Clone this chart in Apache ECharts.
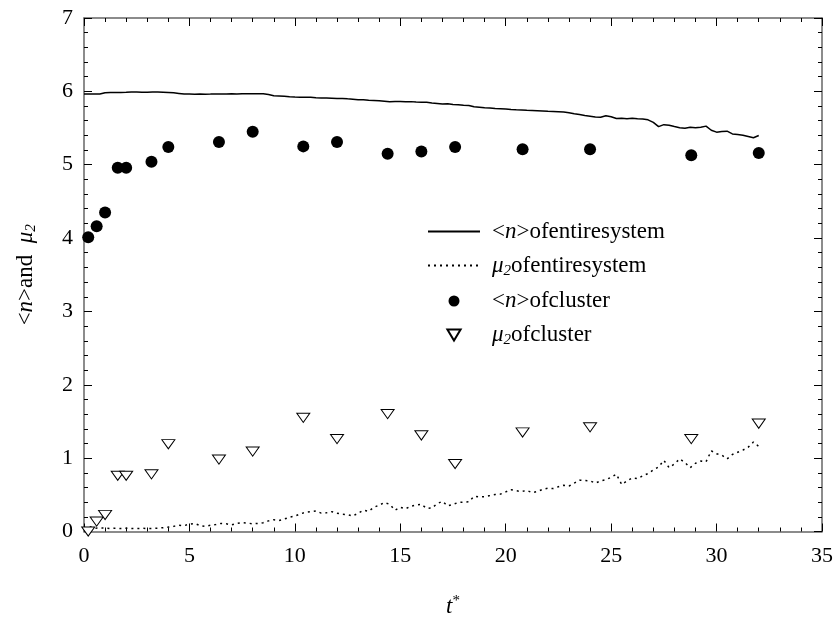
<!DOCTYPE html>
<html>
<head>
<meta charset="utf-8">
<script src="https://cdn.jsdelivr.net/npm/echarts@6/dist/echarts.min.js"></script>
<style>
  html, body { margin: 0; padding: 0; background: #ffffff; }
  #chart { width: 836px; height: 623px; }
</style>
</head>
<body>
<div id="chart"></div>
<script>
// Axis ticks
const xTicks = [0, 5, 10, 15, 20, 25, 30, 35];
const yTicks = [0, 1, 2, 3, 4, 5, 6, 7];

// Whole-system curves, sampled every 0.25 in t*
const sysStep = 0.25;
const nSystem = [
  5.963, 5.964, 5.963, 5.965, 5.980, 5.985, 5.986, 5.985, 5.987, 5.990,
  5.991, 5.989, 5.988, 5.990, 5.992, 5.989, 5.986, 5.980, 5.972, 5.964,
  5.963, 5.962, 5.964, 5.962, 5.963, 5.965, 5.963, 5.964, 5.966, 5.965,
  5.966, 5.967, 5.966, 5.967, 5.966, 5.958, 5.940, 5.936, 5.932, 5.926,
  5.923, 5.921, 5.918, 5.920, 5.914, 5.911, 5.909, 5.906, 5.903, 5.904,
  5.898, 5.893, 5.886, 5.884, 5.880, 5.877, 5.873, 5.866, 5.858, 5.861,
  5.863, 5.858, 5.860, 5.854, 5.851, 5.850, 5.842, 5.836, 5.828, 5.832,
  5.822, 5.817, 5.811, 5.806, 5.790, 5.784, 5.776, 5.772, 5.766, 5.764,
  5.758, 5.752, 5.748, 5.745, 5.742, 5.740, 5.737, 5.733, 5.728, 5.725,
  5.722, 5.719, 5.708, 5.695, 5.684, 5.671, 5.662, 5.650, 5.648, 5.668,
  5.655, 5.631, 5.634, 5.628, 5.632, 5.626, 5.624, 5.612, 5.578, 5.519,
  5.546, 5.538, 5.520, 5.505, 5.498, 5.510, 5.503, 5.512, 5.526, 5.470,
  5.444, 5.452, 5.457, 5.420, 5.412, 5.401, 5.386, 5.368, 5.398
];
const mu2System = [
  0.045, 0.068, 0.045, 0.050, 0.045, 0.040, 0.046, 0.040, 0.044, 0.042,
  0.040, 0.045, 0.040, 0.043, 0.046, 0.052, 0.060, 0.070, 0.085, 0.080,
  0.100, 0.110, 0.080, 0.070, 0.085, 0.095, 0.110, 0.105, 0.090, 0.110,
  0.120, 0.115, 0.105, 0.110, 0.120, 0.145, 0.160, 0.150, 0.170, 0.195,
  0.210, 0.240, 0.260, 0.270, 0.280, 0.250, 0.255, 0.270, 0.250, 0.235,
  0.230, 0.210, 0.250, 0.290, 0.275, 0.330, 0.360, 0.395, 0.370, 0.290,
  0.330, 0.310, 0.345, 0.360, 0.370, 0.315, 0.320, 0.380, 0.410, 0.350,
  0.370, 0.395, 0.400, 0.405, 0.480, 0.470, 0.475, 0.490, 0.505, 0.510,
  0.540, 0.570, 0.555, 0.545, 0.560, 0.530, 0.545, 0.575, 0.590, 0.585,
  0.610, 0.630, 0.620, 0.660, 0.700, 0.695, 0.690, 0.660, 0.690, 0.705,
  0.740, 0.780, 0.640, 0.690, 0.730, 0.720, 0.760, 0.790, 0.840, 0.880,
  0.970, 0.870, 0.920, 0.990, 0.940, 0.870, 0.930, 0.960, 0.950, 1.100,
  1.060, 1.040, 0.990, 1.050, 1.080, 1.110, 1.150, 1.220, 1.160
];

// Cluster samples
const clusterT   = [0.2, 0.6, 1.0, 1.6, 2.0, 3.2, 4.0, 6.4, 8.0, 10.4, 12.0, 14.4, 16.0, 17.6, 20.8, 24.0, 28.8, 32.0];
const nCluster   = [4.01, 4.16, 4.35, 4.96, 4.96, 5.04, 5.24, 5.31, 5.45, 5.25, 5.31, 5.15, 5.18, 5.24, 5.21, 5.21, 5.13, 5.16];
const mu2Cluster = [0.00, 0.135, 0.225, 0.76, 0.76, 0.78, 1.19, 0.98, 1.09, 1.55, 1.26, 1.60, 1.31, 0.92, 1.35, 1.42, 1.26, 1.47];

const seriesNames = ['<n>ofentiresystem', 'μ2ofentiresystem', '<n>ofcluster', 'μ2ofcluster'];
const legendRich = [
  '{r|<}{i|n}{r|>ofentiresystem}',
  '{i|μ}{sub|2}{r|ofentiresystem}',
  '{r|<}{i|n}{r|>ofcluster}',
  '{i|μ}{sub|2}{r|ofcluster}'
];

const FONT = '"Liberation Serif", "Times New Roman", serif';
const richStyles = {
  r:   { fontFamily: FONT, fontSize: 23, lineHeight: 26, color: '#000' },
  i:   { fontFamily: FONT, fontSize: 23, lineHeight: 26, fontStyle: 'italic', color: '#000' },
  sub: { fontFamily: FONT, fontSize: 15, lineHeight: 15, fontStyle: 'italic', verticalAlign: 'bottom', color: '#000' },
  sup: { fontFamily: FONT, fontSize: 15, lineHeight: 15, verticalAlign: 'top', color: '#000' }
};

const pairs = (ts, vs) => ts.map((t, k) => [t, vs[k]]);
const sampled = vs => vs.map((v, k) => [k * sysStep, v]);

const xMin = xTicks[0], xMax = xTicks[xTicks.length - 1], xInt = xTicks[1] - xTicks[0];
const yMin = yTicks[0], yMax = yTicks[yTicks.length - 1], yInt = yTicks[1] - yTicks[0];

const axisLineStyle = { color: '#666666', width: 1.5 };
const tickCommon = { show: true, inside: true, length: 8, lineStyle: { color: '#000', width: 1 } };
const minorCommon = { show: true, splitNumber: 5, length: 4, lineStyle: { color: '#000', width: 1 } };
const tickLabel = { fontFamily: FONT, fontSize: 22, color: '#000' };

const triangleDown = 'path://M0,0L12,0L6,10Z';

// line entries in the legend show only the stroke sample
const legendData = seriesNames.map((name, k) =>
  k < 2 ? { name: name, itemStyle: { opacity: 0 } } : { name: name });

const chart = echarts.init(document.getElementById('chart'), null, { renderer: 'canvas' });
chart.setOption({
  animation: false,
  backgroundColor: '#ffffff',
  grid: { left: 84, right: 12, top: 18, bottom: 88, containLabel: false },
  xAxis: [
    {
      type: 'value', min: xMin, max: xMax, interval: xInt, position: 'bottom',
      axisLine: { show: true, onZero: false, lineStyle: axisLineStyle },
      axisTick: tickCommon, minorTick: minorCommon,
      splitLine: { show: false },
      axisLabel: Object.assign({ margin: 14 }, tickLabel),
      name: '{i|t}{sup|*}', nameLocation: 'middle', nameGap: 62,
      nameTextStyle: { rich: richStyles }
    },
    {
      type: 'value', min: xMin, max: xMax, interval: xInt, position: 'top',
      axisLine: { show: true, onZero: false, lineStyle: axisLineStyle },
      axisTick: tickCommon, minorTick: minorCommon,
      splitLine: { show: false }, axisLabel: { show: false }
    }
  ],
  yAxis: [
    {
      type: 'value', min: yMin, max: yMax, interval: yInt, position: 'left',
      axisLine: { show: true, onZero: false, lineStyle: axisLineStyle },
      axisTick: tickCommon, minorTick: minorCommon,
      splitLine: { show: false },
      axisLabel: Object.assign({ margin: 11 }, tickLabel),
      name: '{r|<}{i|n}{r|>and  }{i|μ}{sub|2}', nameLocation: 'middle', nameGap: 45, nameRotate: 90,
      nameTextStyle: { rich: richStyles }
    },
    {
      type: 'value', min: yMin, max: yMax, interval: yInt, position: 'right',
      axisLine: { show: true, onZero: false, lineStyle: axisLineStyle },
      axisTick: tickCommon, minorTick: minorCommon,
      splitLine: { show: false }, axisLabel: { show: false }
    }
  ],
  legend: {
    orient: 'vertical',
    left: 422, top: 215,
    itemWidth: 52, itemHeight: 11, itemGap: 11,
    data: legendData,
    formatter: name => legendRich[seriesNames.indexOf(name)],
    textStyle: { padding: [0, 0, 0, 7], rich: richStyles }
  },
  series: [
    {
      name: seriesNames[0], type: 'line', data: sampled(nSystem),
      symbol: 'none', showSymbol: false, smooth: false,
      lineStyle: { color: '#000', width: 1.5, type: 'solid' },
      itemStyle: { color: '#000' }, z: 2
    },
    {
      name: seriesNames[1], type: 'line', data: sampled(mu2System),
      symbol: 'none', showSymbol: false, smooth: false,
      lineStyle: { color: '#000', width: 1.5, type: [2, 4] },
      itemStyle: { color: '#000' }, z: 2
    },
    {
      name: seriesNames[2], type: 'scatter', data: pairs(clusterT, nCluster),
      symbol: 'circle', symbolSize: 12,
      itemStyle: { color: '#000', opacity: 1 }, z: 3
    },
    {
      name: seriesNames[3], type: 'scatter', data: pairs(clusterT, mu2Cluster),
      symbol: triangleDown, symbolSize: [13, 11], symbolKeepAspect: true,
      itemStyle: { color: '#ffffff', borderColor: '#000', borderWidth: 1, opacity: 1 }, z: 3
    }
  ]
});
</script>
</body>
</html>
